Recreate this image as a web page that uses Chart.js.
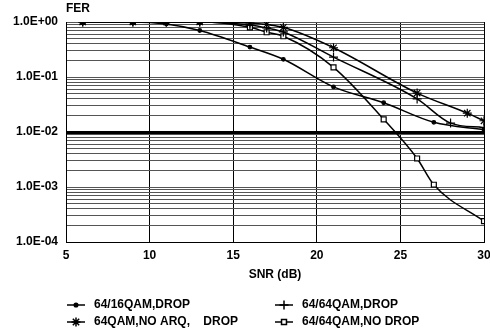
<!DOCTYPE html>
<html>
<head>
<meta charset="utf-8">
<script src="https://cdn.jsdelivr.net/npm/chart.js@4"></script>
<style>
  html, body { margin: 0; padding: 0; background: #fff; }
</style>
</head>
<body>
<canvas id="ferChart" width="490" height="335"></canvas>
<script>
// FER vs SNR curves
const snr16Drop = [6, 9, 11, 13, 16, 18, 21, 24, 27, 30];
const fer16Drop = [1.0, 1.0, 0.92, 0.7, 0.35, 0.21, 0.066, 0.034, 0.015, 0.011];

const snr64Drop = [6, 9, 11, 13, 16, 17, 18, 21, 26, 28, 30];
const fer64Drop = [1.0, 1.0, 1.0, 1.0, 0.88, 0.78, 0.66, 0.23, 0.04, 0.0145, 0.012];

const snrNoArq = [6, 9, 11, 13, 16, 17, 18, 21, 26, 29, 30];
const ferNoArq = [1.0, 1.0, 1.0, 1.0, 0.96, 0.9, 0.8, 0.34, 0.051, 0.022, 0.016];

const snrNoDrop = [6, 9, 11, 13, 16, 17, 18, 21, 24, 26, 27, 30];
const ferNoDrop = [1.0, 1.0, 1.0, 1.0, 0.8, 0.65, 0.55, 0.15, 0.017, 0.0033, 0.0011, 0.00024];

const seriesLabels = ['64/16QAM,DROP', '64/64QAM,DROP', '64QAM,NO ARQ,    DROP', '64/64QAM,NO DROP'];
const xTicks = [5, 10, 15, 20, 25, 30];
const yDecades = [-4, -3, -2, -1, 0];

const FONT = '"Liberation Sans", Arial, sans-serif';
Chart.defaults.font.family = FONT;
Chart.defaults.font.weight = 'bold';
Chart.defaults.font.size = 12;
Chart.defaults.color = '#000';

function toPoints(xs, ys) {
    return xs.map((x, i) => ({ x, y: ys[i] }));
}

function sciLabel(v) {
    const e = Math.round(Math.log10(v));
    return '1.0E' + (e >= 0 ? '+' : '-') + String(Math.abs(e)).padStart(2, '0');
}

const lineBase = {
    borderColor: '#000', borderWidth: 1.5, pointBorderColor: '#000',
    pointBorderWidth: 1.2, fill: false, cubicInterpolationMode: 'monotone'
};

const datasets = [
    { ...lineBase, label: seriesLabels[0], data: toPoints(snr16Drop, fer16Drop), pointStyle: 'circle', pointRadius: 1.8, pointBackgroundColor: '#000' },
    { ...lineBase, label: seriesLabels[1], data: toPoints(snr64Drop, fer64Drop), pointStyle: 'cross', pointRadius: 4.5, pointBackgroundColor: '#000' },
    { ...lineBase, label: seriesLabels[2], data: toPoints(snrNoArq, ferNoArq), pointStyle: 'star', pointRadius: 4.5, pointBackgroundColor: '#000' },
    { ...lineBase, label: seriesLabels[3], data: toPoints(snrNoDrop, ferNoDrop), pointStyle: 'rect', pointRadius: 3.5, pointBackgroundColor: '#fff' }
];

// legend slots: 2 columns x 2 rows under the axis title
const legendSlots = [[67, 305], [275, 305], [67, 322], [275, 322]];

const extras = {
    id: 'extras',
    afterDraw(chart) {
        const ctx = chart.ctx;
        ctx.save();
        ctx.font = 'bold 12px ' + FONT;
        ctx.fillStyle = '#000';
        ctx.textBaseline = 'middle';
        ctx.textAlign = 'left';
        ctx.fillText('FER', chart.chartArea.left, 9);

        chart.data.datasets.forEach((ds, i) => {
            const [lx, ly] = legendSlots[i];
            ctx.strokeStyle = '#000';
            ctx.lineWidth = 1.5;
            ctx.beginPath();
            ctx.moveTo(lx, ly);
            ctx.lineTo(lx + 18, ly);
            ctx.stroke();
            ctx.fillStyle = ds.pointBackgroundColor;
            ctx.strokeStyle = '#000';
            Chart.helpers.drawPoint(ctx, {
                pointStyle: ds.pointStyle, radius: ds.pointRadius, rotation: 0, borderWidth: 1.2
            }, lx + 9, ly);
            ctx.fillStyle = '#000';
            ctx.fillText(ds.label, lx + 27, ly);
        });
        ctx.restore();
    }
};

new Chart(document.getElementById('ferChart'), {
    type: 'line',
    data: { datasets },
    plugins: [extras],
    options: {
        responsive: false,
        animation: false,
        layout: { padding: { top: 22, right: 6, left: 0, bottom: 53 } },
        plugins: { legend: { display: false }, tooltip: { enabled: false } },
        scales: {
            x: {
                type: 'linear', min: 5, max: 30,
                afterBuildTicks: scale => { scale.ticks = xTicks.map(v => ({ value: v })); },
                afterFit: scale => { scale.height = 40; scale.paddingLeft = 0; scale.paddingRight = 0; },
                ticks: { padding: 6, autoSkip: false, maxRotation: 0 },
                grid: { color: '#000', lineWidth: 1, drawTicks: false },
                border: { color: '#000', width: 1 },
                title: { display: true, text: 'SNR (dB)', padding: { top: 0, bottom: 0 }, font: { size: 12, weight: 'bold' } }
            },
            y: {
                type: 'logarithmic', min: 1e-4, max: 1,
                afterBuildTicks: scale => {
                    const ticks = [];
                    yDecades.forEach(e => {
                        for (let m = 1; m <= 9; m++) {
                            if (e === 0 && m > 1) break;
                            ticks.push({ value: m * Math.pow(10, e), major: m === 1 });
                        }
                    });
                    scale.ticks = ticks;
                },
                afterFit: scale => { scale.width = 66; },
                ticks: {
                    autoSkip: false, padding: 8,
                    callback: (v) => {
                        const e = Math.log10(v);
                        return Math.abs(e - Math.round(e)) < 1e-9 ? sciLabel(v) : '';
                    }
                },
                grid: {
                    drawTicks: false,
                    color: ctx => (Math.abs(ctx.tick.value - 0.01) < 1e-9 ? '#000' : '#555'),
                    lineWidth: ctx => (Math.abs(ctx.tick.value - 0.01) < 1e-9 ? 3 : 1)
                },
                border: { color: '#000', width: 1 }
            }
        }
    }
});
</script>
</body>
</html>
